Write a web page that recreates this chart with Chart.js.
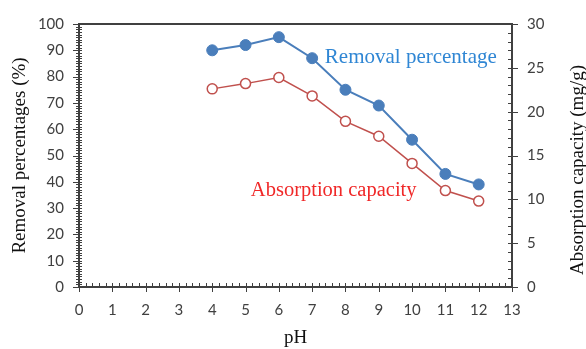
<!DOCTYPE html>
<html>
<head>
<meta charset="utf-8">
<title>pH effect</title>
<script src="https://cdn.jsdelivr.net/npm/chart.js@4/dist/chart.umd.min.js"></script>
<style>
    html, body { margin: 0; padding: 0; background: #fff; }
    #wrap { width: 586px; height: 349px; }
</style>
</head>
<body>
<div id="wrap"><canvas id="phChart" width="586" height="349"></canvas></div>
<script>
// данные
const phValues = [4, 5, 6, 7, 8, 9, 10, 11, 12];
const removalPct = [90, 92, 95, 87, 75, 69, 56, 43, 39];
const capacity = [22.6, 23.2, 23.9, 21.8, 18.9, 17.2, 14.1, 11.0, 9.8];

const xTicks = [0, 1, 2, 3, 4, 5, 6, 7, 8, 9, 10, 11, 12, 13];
const leftTicks = [0, 10, 20, 30, 40, 50, 60, 70, 80, 90, 100];
const rightTicks = [0, 5, 10, 15, 20, 25, 30];

const axisColor = '#404040';
const tickFont = { family: 'Lato', size: 15 };
const serif = 'Liberation Serif';

// рамка, засечки осей и подписи серий
const axesDecor = {
    id: 'axesDecor',
    beforeDatasetsDraw(chart) {
        const ctx = chart.ctx;
        const a = chart.chartArea;
        const x = chart.scales.x, y = chart.scales.y, y2 = chart.scales.y2;
        ctx.save();
        ctx.strokeStyle = axisColor;
        ctx.lineWidth = 2;
        ctx.strokeRect(a.left, a.top, a.right - a.left, a.bottom - a.top);

        ctx.lineWidth = 1;
        ctx.beginPath();
        // левая ось: основные и мелкие засечки
        for (let v = 0; v <= 100; v += 1) {
            const py = Math.round(y.getPixelForValue(v)) + 0.5;
            const major = v % 10 === 0;
            ctx.moveTo(a.left - (major ? 6 : 3), py);
            ctx.lineTo(a.left + 3, py);
        }
        // ось X
        for (let i = 0; i <= 65; i++) {
            const v = i / 5;
            const px = Math.round(x.getPixelForValue(v)) + 0.5;
            const major = i % 5 === 0;
            ctx.moveTo(px, a.bottom + (major ? 5 : 0));
            ctx.lineTo(px, a.bottom - 4);
        }
        // правая ось
        for (let v = 0; v <= 30; v += 1) {
            const py = Math.round(y2.getPixelForValue(v)) + 0.5;
            const major = v % 5 === 0;
            ctx.moveTo(a.right + (major ? 6 : 0), py);
            ctx.lineTo(a.right - 4, py);
        }
        ctx.stroke();
        ctx.restore();
    },
    afterDraw(chart) {
        const ctx = chart.ctx;
        const x = chart.scales.x, y = chart.scales.y;
        ctx.save();
        ctx.textBaseline = 'alphabetic';
        ctx.font = '21px "' + serif + '"';
        ctx.fillStyle = '#2f86d4';
        ctx.fillText('Removal percentage', x.getPixelForValue(7.38), y.getPixelForValue(85));
        ctx.font = '20.5px "' + serif + '"';
        ctx.fillStyle = '#f02828';
        ctx.fillText('Absorption capacity', x.getPixelForValue(5.16), y.getPixelForValue(34.5));

        // заголовок правой оси
        ctx.font = '19px "' + serif + '"';
        ctx.fillStyle = '#111';
        ctx.textAlign = 'center';
        ctx.textBaseline = 'middle';
        ctx.translate(578, 170);
        ctx.rotate(-Math.PI / 2);
        ctx.fillText('Absorption capacity (mg/g)', 0, 0);
        ctx.restore();
    }
};

const ctx = document.getElementById('phChart').getContext('2d');
const phChart = new Chart(ctx, {
    type: 'line',
    data: {
        datasets: [{
            label: 'Removal percentage',
            data: phValues.map((p, i) => ({ x: p, y: removalPct[i] })),
            yAxisID: 'y',
            borderColor: '#4a7ebb',
            backgroundColor: '#4a7ebb',
            borderWidth: 2,
            pointRadius: 5.5,
            pointBackgroundColor: '#4a7ebb',
            pointBorderColor: '#4a7ebb',
            pointBorderWidth: 1,
            tension: 0
        }, {
            label: 'Absorption capacity',
            data: phValues.map((p, i) => ({ x: p, y: capacity[i] })),
            yAxisID: 'y2',
            borderColor: '#c0504d',
            backgroundColor: '#fff',
            borderWidth: 1.5,
            pointRadius: 5,
            pointBackgroundColor: '#fff',
            pointBorderColor: '#c0504d',
            pointBorderWidth: 1.5,
            tension: 0
        }]
    },
    options: {
        responsive: false,
        animation: false,
        layout: { padding: { top: 20, left: 0, right: 0, bottom: 0 } },
        plugins: {
            legend: { display: false },
            tooltip: { enabled: false }
        },
        scales: {
            x: {
                type: 'linear',
                min: 0,
                max: 13,
                afterBuildTicks: s => { s.ticks = xTicks.map(v => ({ value: v })); },
                afterFit: s => { s.height = 62; },
                grid: { display: false, drawTicks: false },
                border: { display: false },
                ticks: { color: axisColor, font: tickFont, padding: 14, maxRotation: 0 },
                title: {
                    display: true,
                    text: 'pH',
                    color: '#111',
                    font: { family: serif, size: 19 },
                    padding: { top: 0, bottom: 0 }
                }
            },
            y: {
                position: 'left',
                min: 0,
                max: 100,
                afterBuildTicks: s => { s.ticks = leftTicks.map(v => ({ value: v })); },
                afterFit: s => { s.width = 79; },
                grid: { display: false, drawTicks: false },
                border: { display: false },
                ticks: { color: axisColor, font: tickFont, padding: 15 },
                title: {
                    display: true,
                    text: 'Removal percentages (%)',
                    color: '#111',
                    font: { family: serif, size: 19 },
                    padding: { top: 9, bottom: 0 }
                }
            },
            y2: {
                position: 'right',
                min: 0,
                max: 30,
                afterBuildTicks: s => { s.ticks = rightTicks.map(v => ({ value: v })); },
                afterFit: s => { s.width = 74; },
                grid: { display: false, drawTicks: false },
                border: { display: false },
                ticks: { color: axisColor, font: tickFont, padding: 15 }
            }
        }
    },
    plugins: [axesDecor]
});
</script>
</body>
</html>
